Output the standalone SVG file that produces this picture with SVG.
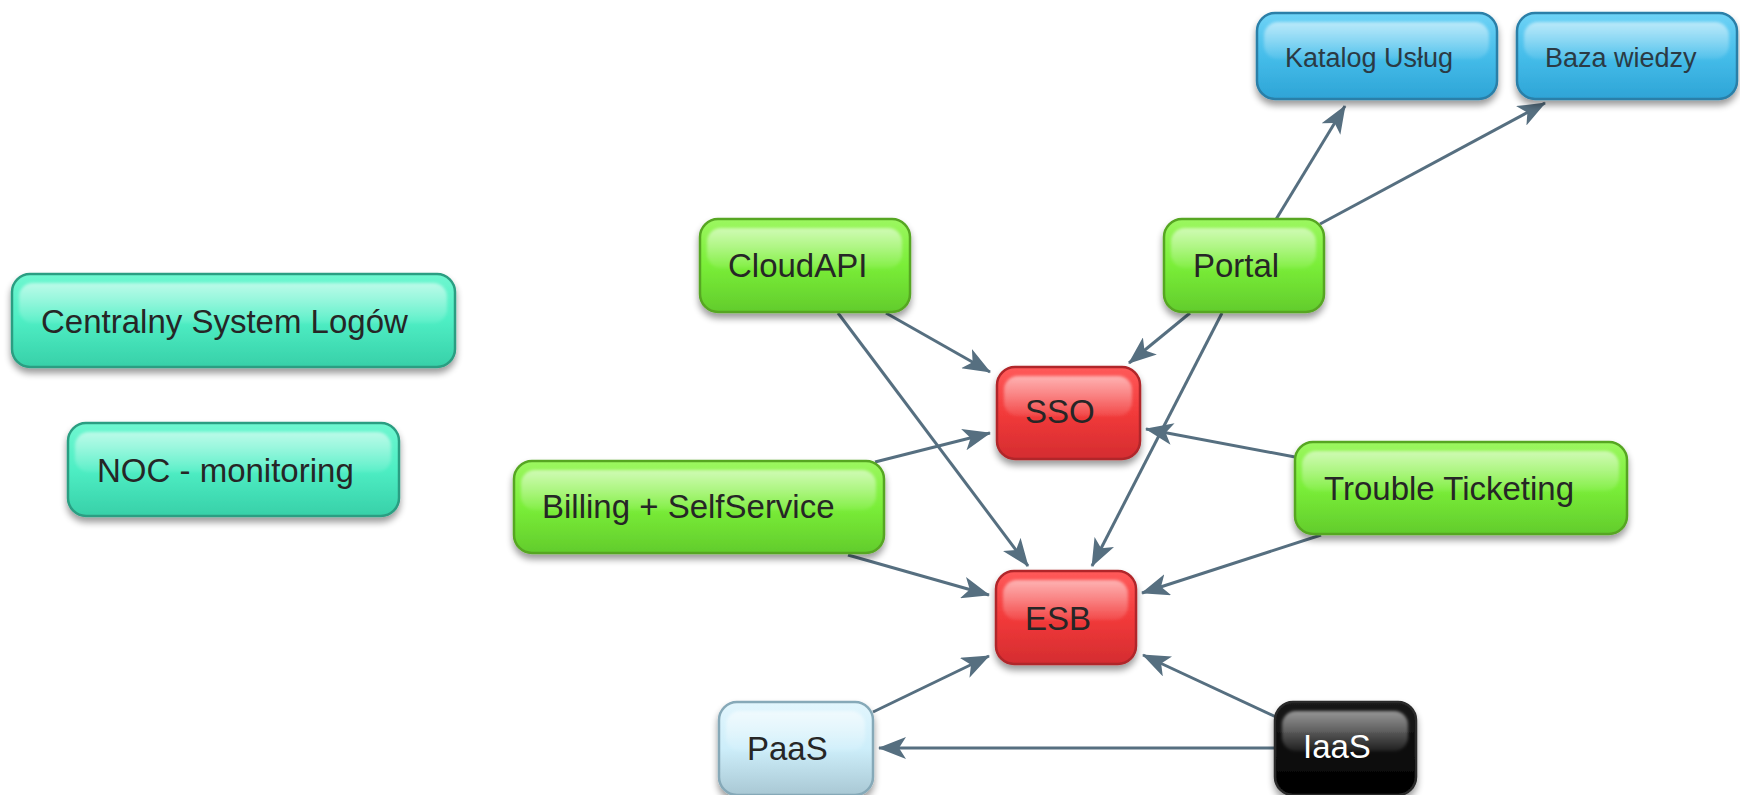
<svg xmlns="http://www.w3.org/2000/svg" width="1740" height="795" viewBox="0 0 1740 795">
  <style>
    .box { stroke-width: 2.5; filter: url(#shadow); }
    .gloss { fill: url(#gloss); stroke: none; filter: url(#soft); }
    .lbl { font-family: "Liberation Sans", Arial, sans-serif; font-size: 33px; fill: #262626; }
    .lbl.small { font-size: 27px; fill: #2b3a44; }
    .lbl.light { fill: #ffffff; }
    .teal { fill: url(#gTeal); stroke: #2c9e82; }
    .green { fill: url(#gGreen); stroke: #56a622; }
    .red { fill: url(#gRed); stroke: #b0262a; }
    .blue { fill: url(#gBlue); stroke: #2a7fa8; }
    .pale { fill: url(#gPale); stroke: #86a9b8; }
    .black { fill: url(#gBlack); stroke: #2a2a2a; }
    #connectors line { stroke: #566f80; stroke-width: 3; marker-end: url(#arrow); }
  </style>
  <defs>
    <filter id="shadow" x="-10%" y="-10%" width="120%" height="140%">
      <feGaussianBlur in="SourceAlpha" stdDeviation="3.5"/>
      <feOffset dx="0" dy="5" result="b"/>
      <feComponentTransfer><feFuncA type="linear" slope="0.4"/></feComponentTransfer>
      <feMerge><feMergeNode/><feMergeNode in="SourceGraphic"/></feMerge>
    </filter>
    <filter id="soft" x="-5%" y="-20%" width="110%" height="140%">
      <feGaussianBlur stdDeviation="1.5"/>
    </filter>
    <linearGradient id="gloss" x1="0" y1="0" x2="0" y2="1">
      <stop offset="0" stop-color="#ffffff" stop-opacity="0.55"/>
      <stop offset="1" stop-color="#ffffff" stop-opacity="0.08"/>
    </linearGradient>
    <linearGradient id="gTeal" x1="0" y1="0" x2="0" y2="1">
      <stop offset="0" stop-color="#6ff7d0"/>
      <stop offset="0.5" stop-color="#4eeec4"/>
      <stop offset="1" stop-color="#37d0a8"/>
    </linearGradient>
    <linearGradient id="gGreen" x1="0" y1="0" x2="0" y2="1">
      <stop offset="0" stop-color="#9cf760"/>
      <stop offset="0.5" stop-color="#7aee38"/>
      <stop offset="1" stop-color="#62cc2c"/>
    </linearGradient>
    <linearGradient id="gRed" x1="0" y1="0" x2="0" y2="1">
      <stop offset="0" stop-color="#ff5a5a"/>
      <stop offset="0.5" stop-color="#f23a3a"/>
      <stop offset="1" stop-color="#d42c30"/>
    </linearGradient>
    <linearGradient id="gBlue" x1="0" y1="0" x2="0" y2="1">
      <stop offset="0" stop-color="#6fd3f6"/>
      <stop offset="0.5" stop-color="#45bdea"/>
      <stop offset="1" stop-color="#2ea4d6"/>
    </linearGradient>
    <linearGradient id="gPale" x1="0" y1="0" x2="0" y2="1">
      <stop offset="0" stop-color="#e2f6fd"/>
      <stop offset="0.5" stop-color="#cdeefa"/>
      <stop offset="1" stop-color="#a9c8d4"/>
    </linearGradient>
    <linearGradient id="gBlack" x1="0" y1="0" x2="0" y2="1">
      <stop offset="0" stop-color="#1a1a1a"/>
      <stop offset="1" stop-color="#000000"/>
    </linearGradient>
    <marker id="arrow" markerUnits="userSpaceOnUse" viewBox="0 0 28 22" refX="27" refY="11" markerWidth="28" markerHeight="22" orient="auto">
      <path d="M0,0 L28,11 L0,22 L7,11 Z" fill="#566f80"/>
    </marker>
  </defs>

  <!-- connectors -->
  <g id="connectors">
    <line x1="1275" y1="221" x2="1345" y2="106"/>
    <line x1="1320" y1="224" x2="1545" y2="103"/>
    <line x1="886" y1="313" x2="990" y2="372"/>
    <line x1="838" y1="313" x2="1028" y2="566"/>
    <line x1="1190" y1="313" x2="1129" y2="363"/>
    <line x1="1222" y1="313" x2="1092" y2="566"/>
    <line x1="875" y1="462" x2="990" y2="433"/>
    <line x1="1295" y1="457" x2="1146" y2="429"/>
    <line x1="1321" y1="535" x2="1142" y2="593"/>
    <line x1="848" y1="555" x2="989" y2="595"/>
    <line x1="873" y1="712" x2="989" y2="656"/>
    <line x1="1276" y1="717" x2="1143" y2="655"/>
    <line x1="1276" y1="748" x2="879" y2="748"/>
  </g>

  <!-- nodes -->
  <g id="centralny">
    <rect class="box teal" x="12" y="274" width="443" height="93" rx="18"/>
    <rect class="gloss" x="19" y="283" width="428" height="40" rx="14"/>
    <text class="lbl" x="41" y="333">Centralny System Logów</text>
  </g>
  <g id="noc">
    <rect class="box teal" x="68" y="423" width="331" height="93" rx="18"/>
    <rect class="gloss" x="75" y="432" width="316" height="40" rx="14"/>
    <text class="lbl" x="97" y="482">NOC - monitoring</text>
  </g>
  <g id="katalog">
    <rect class="box blue" x="1257" y="13" width="240" height="86" rx="18"/>
    <rect class="gloss" x="1264" y="22" width="225" height="37" rx="14"/>
    <text class="lbl small" x="1285" y="67">Katalog Usług</text>
  </g>
  <g id="baza">
    <rect class="box blue" x="1517" y="13" width="220" height="86" rx="18"/>
    <rect class="gloss" x="1524" y="22" width="205" height="37" rx="14"/>
    <text class="lbl small" x="1545" y="67">Baza wiedzy</text>
  </g>
  <g id="cloudapi">
    <rect class="box green" x="700" y="219" width="210" height="93" rx="18"/>
    <rect class="gloss" x="707" y="228" width="195" height="40" rx="14"/>
    <text class="lbl" x="728" y="277">CloudAPI</text>
  </g>
  <g id="portal">
    <rect class="box green" x="1164" y="219" width="160" height="93" rx="18"/>
    <rect class="gloss" x="1171" y="228" width="145" height="40" rx="14"/>
    <text class="lbl" x="1193" y="277">Portal</text>
  </g>
  <g id="sso">
    <rect class="box red" x="997" y="367" width="143" height="92" rx="18"/>
    <rect class="gloss" x="1004" y="376" width="128" height="40" rx="14"/>
    <text class="lbl" x="1025" y="423">SSO</text>
  </g>
  <g id="trouble">
    <rect class="box green" x="1295" y="442" width="332" height="92" rx="18"/>
    <rect class="gloss" x="1302" y="451" width="317" height="40" rx="14"/>
    <text class="lbl" x="1324" y="500">Trouble Ticketing</text>
  </g>
  <g id="billing">
    <rect class="box green" x="514" y="461" width="370" height="92" rx="18"/>
    <rect class="gloss" x="521" y="470" width="355" height="40" rx="14"/>
    <text class="lbl" x="542" y="518">Billing + SelfService</text>
  </g>
  <g id="esb">
    <rect class="box red" x="996" y="571" width="140" height="93" rx="18"/>
    <rect class="gloss" x="1003" y="580" width="125" height="40" rx="14"/>
    <text class="lbl" x="1025" y="630">ESB</text>
  </g>
  <g id="paas">
    <rect class="box pale" x="719" y="702" width="154" height="93" rx="18"/>
    <rect class="gloss" x="726" y="711" width="139" height="40" rx="14"/>
    <text class="lbl" x="747" y="760">PaaS</text>
  </g>
  <g id="iaas">
    <rect class="box black" x="1275" y="702" width="141" height="93" rx="18"/>
    <rect class="gloss" x="1282" y="711" width="126" height="40" rx="14"/>
    <text class="lbl light" x="1303" y="758">IaaS</text>
  </g>
</svg>
